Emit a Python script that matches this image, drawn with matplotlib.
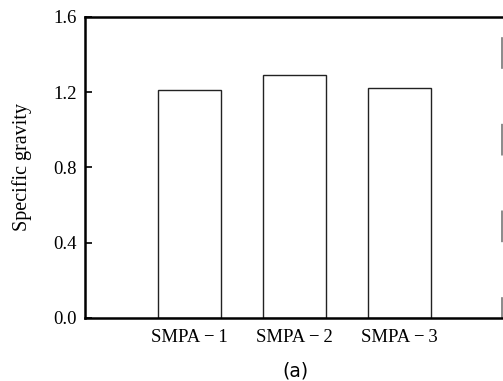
import matplotlib
matplotlib.use("Agg")
import matplotlib.pyplot as plt

# data
samples = ["SMPA\u2009\u2212\u20091", "SMPA\u2009\u2212\u20092", "SMPA\u2009\u2212\u20093"]
gravity = [1.21, 1.29, 1.22]
positions = [1, 2, 3]
yticks = [0.0, 0.4, 0.8, 1.2, 1.6]

serif = ["Liberation Serif", "DejaVu Serif"]

fig = plt.figure(figsize=(5.03, 3.81), dpi=100)
ax = fig.add_axes([0.169, 0.1654, 0.829, 0.79])

ax.bar(positions, gravity, width=0.6, color="white", edgecolor="#222222", linewidth=1.0)

ax.set_xlim(0.005, 3.976)
ax.set_ylim(0, 1.6)
ax.set_yticks(yticks)
ax.set_yticklabels([f"{v:.1f}" for v in yticks], family=serif, fontsize=13.5)
ax.set_xticks(positions)
ax.set_xticklabels(samples, family=serif, fontsize=13.5)
ax.tick_params(axis="y", direction="in", length=5, width=1.2, pad=6)
ax.tick_params(axis="x", length=0, pad=8)
ax.set_ylabel("Specific gravity", family=serif, fontsize=14.5, labelpad=15)

for side in ["left", "top", "bottom"]:
    ax.spines[side].set_linewidth(1.8)
ax.spines["right"].set_linewidth(1.2)
ax.spines["right"].set_color("#777777")
ax.spines["right"].set_linestyle((6, (18, 34)))

fig.text(0.588, 0.026, "(a)", family="DejaVu Sans", fontsize=13.5, ha="center", va="center")

fig.savefig("out.png", dpi=100)
